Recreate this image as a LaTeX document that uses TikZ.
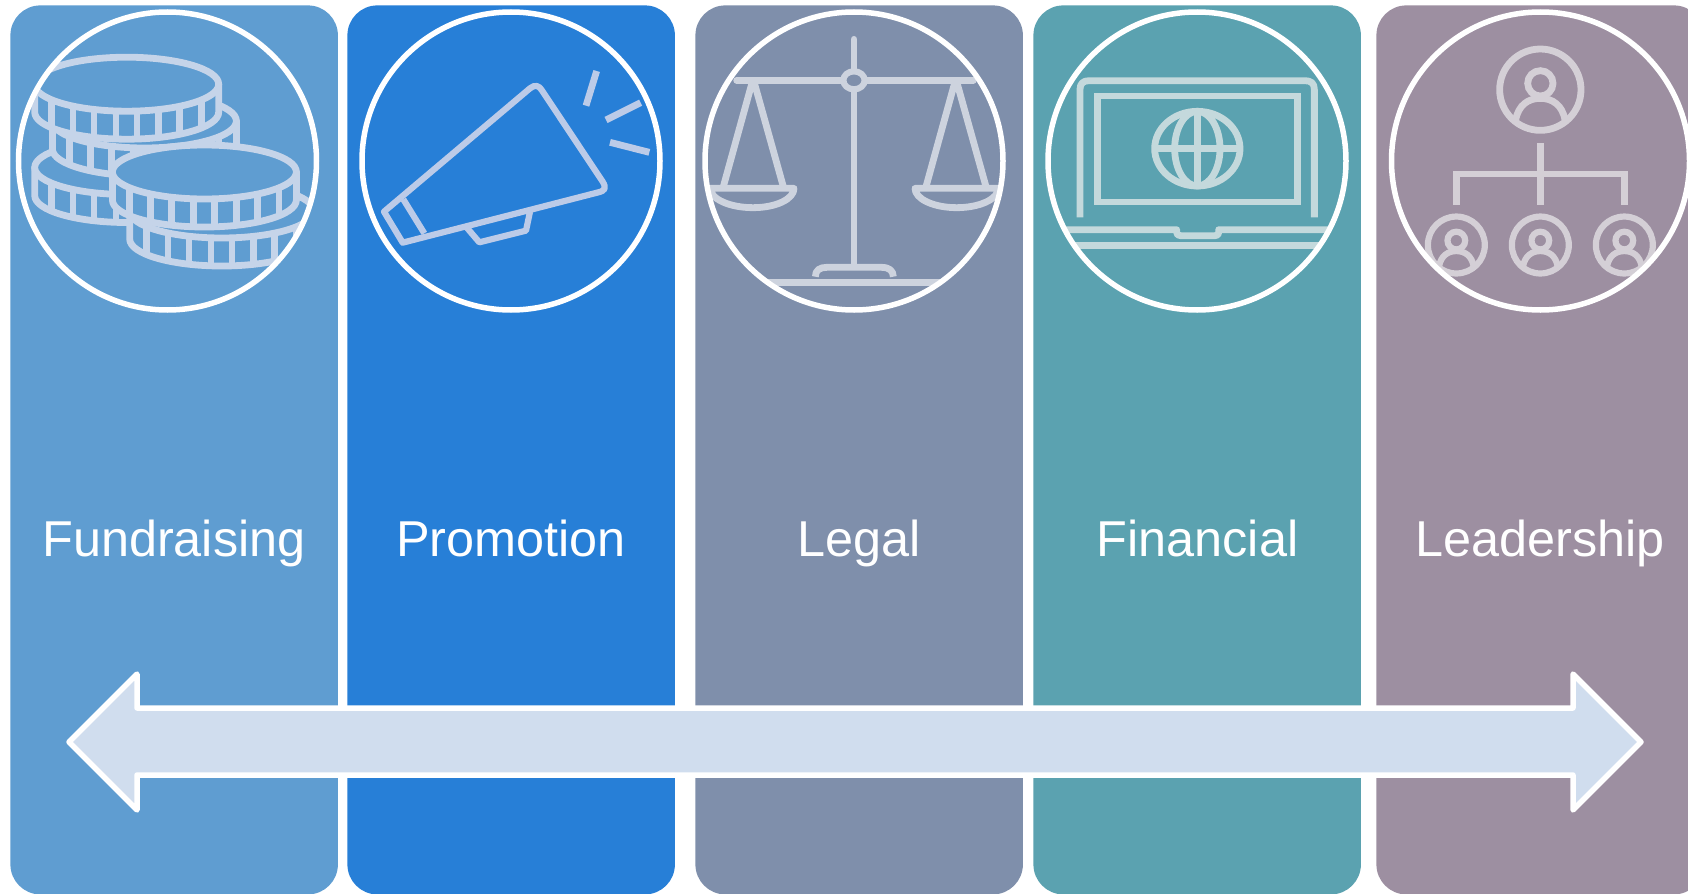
\documentclass[tikz,border=0pt]{standalone}
\usepackage{fontspec}
\setmainfont{Liberation Sans}
\definecolor{pa}{HTML}{5F9DD1}
\definecolor{pb}{HTML}{277FD7}
\definecolor{pc}{HTML}{7F8FAB}
\definecolor{pd}{HTML}{5BA2B0}
\definecolor{pe}{HTML}{9D8FA1}
\definecolor{ia}{HTML}{C5D4E9}
\definecolor{ib}{HTML}{BCCBE8}
\definecolor{ic}{HTML}{CDD3DE}
\definecolor{id}{HTML}{C4D9DC}
\definecolor{ie}{HTML}{D4CFD6}
\definecolor{arrowfill}{HTML}{D0DDEE}
\tikzset{
  panelbox/.style={rectangle,rounded corners=15pt,inner sep=0pt,minimum height=444.5pt,minimum width=163.75pt,anchor=north west},
  ringbox/.style={circle,draw=white,line width=2.75pt,inner sep=0pt,minimum size=149pt},
  labeltext/.style={text=white,font=\fontsize{25.2}{30}\selectfont,anchor=base,inner sep=0pt},
  iconline/.style={line width=3.4pt,line join=round,line cap=butt},
  thinicon/.style={line width=3.1pt,line join=round,line cap=butt},
  zoomed/.style={x=0.16667pt,y=-0.16667pt},
}
% one coin, in image pixels, centred on its top face
\newcommand{\coinshape}[2]{%
  \begin{scope}[shift={(#1,#2)}]
    \draw[iconline,fill=pa] (-92,0) -- (-92,28) .. controls (-92,42.9) and (-50.8,55) .. (0,55) .. controls (50.8,55) and (92,42.9) .. (92,28) -- (92,0) -- cycle;
    \foreach \d in {-75,-53.7,-32.7,-10.7,10.3,32,53,74.5}
      \draw[iconline] ({\d},{27*sqrt(1-(\d/92)^2)}) -- ++(0,28);
    \draw[iconline,fill=pa] (0,0) ellipse [x radius=92,y radius=27];
  \end{scope}}
% one person badge, in zoomed pixels with a scale factor
\newcommand{\personbadge}[4]{%
  \begin{scope}[shift={(#1,#2)},scale=#3]
    \draw[line width=#4] (0,0) circle [radius=122];
    \draw[line width=#4] (0,-19) circle [radius=38];
    \draw[line width=#4] (-74,91) .. controls (-66,46) and (-36,26) .. (0,26) .. controls (36,26) and (66,46) .. (74,91);
  \end{scope}}
\begin{document}
\begin{tikzpicture}[x=0.5pt,y=-0.5pt]
\useasboundingbox (0,0) rectangle (1688,894);
\clip (0,0) rectangle (1688,894);
\fill[white] (0,0) rectangle (1688,894);

\node[panelbox,fill=pa] (panelA) at (10,5) {};
\node[panelbox,fill=pb] (panelB) at (347,5) {};
\node[panelbox,fill=pc] (panelC) at (695,5) {};
\node[panelbox,fill=pd] (panelD) at (1033,5) {};
\node[panelbox,fill=pe] (panelE) at (1376,5) {};

% coins
\begin{scope}
  \clip (167.5,161) circle [radius=150];
  \begin{scope}[draw=ia]
    \coinshape{126.7}{167.5}
    \coinshape{221.7}{211}
    \coinshape{144.4}{121}
    \coinshape{126.7}{84.2}
    \coinshape{204.4}{172}
  \end{scope}
\end{scope}

% megaphone
\begin{scope}[shift={(340,0)},zoomed,draw=ib]
  \draw[thinicon] (132,635) -- (570,265) .. controls (585,252) and (598,258) .. (605,270) -- (788,545) .. controls (800,565) and (795,572) .. (775,577) -- (188,728) -- cycle;
  \draw[thinicon] (190,598) -- (253,700);
  \draw[thinicon] (378,680) -- (418,727) -- (558,692) -- (570,635);
  \draw[iconline] (770,213) -- (738,317);
  \draw[iconline] (902,308) -- (798,360);
  \draw[iconline] (810,427) -- (928,457);
\end{scope}

% scales
\begin{scope}
  \clip (854,161) circle [radius=150];
  \begin{scope}[shift={(690,0)},zoomed,draw=ic]
    \draw[iconline,line cap=round] (492,118) -- (492,800);
    \draw[iconline,line cap=round] (140,241) -- (850,241);
    \draw[thinicon,fill=pc] (492,241) ellipse [x radius=32,y radius=27];
    \draw[iconline] (100,560) -- (187,245) -- (192,245) -- (280,560);
    \draw[iconline] (708,560) -- (795,245) -- (800,245) -- (888,560);
    \draw[iconline] (312,565) .. controls (312,597) and (258,623) .. (189,623) .. controls (119,623) and (61,597) .. (61,565) -- cycle;
    \draw[iconline] (925,565) .. controls (925,597) and (869,623) .. (800,623) .. controls (731,623) and (675,597) .. (675,565) -- cycle;
    \draw[iconline] (376,830) .. controls (376,810) and (390,802) .. (410,802) -- (575,802) .. controls (597,802) and (610,812) .. (610,830);
    \draw[iconline] (200,848) -- (780,848);
  \end{scope}
\end{scope}

% laptop
\begin{scope}
  \clip (1197,161) circle [radius=150];
  \begin{scope}[shift={(1030,0)},zoomed,draw=id]
    \draw[iconline] (150,652) -- (150,268) .. controls (150,250) and (160,242) .. (178,242) -- (825,242) .. controls (843,242) and (853,250) .. (853,268) -- (853,652);
    \draw[iconline,line join=miter] (203,288) rectangle (802,606);
    \draw[iconline] (502,446) ellipse [x radius=128,y radius=112];
    \draw[iconline] (502,446) ellipse [x radius=68,y radius=112];
    \draw[iconline] (502,334) -- (502,558);
    \draw[iconline] (374,446) -- (630,446);
    \draw[iconline] (80,689) -- (440,689) -- (440,697) .. controls (440,704) and (444,707) .. (452,707) -- (555,707) .. controls (563,707) and (566,704) .. (566,697) -- (566,689) -- (920,689);
    \draw[iconline] (110,736) -- (890,736);
  \end{scope}
\end{scope}

% organisation chart
\begin{scope}
  \clip (1540.5,161) circle [radius=150];
  \begin{scope}[shift={(1370,0)},zoomed,draw=ie]
    \personbadge{511}{269}{1}{3.4pt}
    \personbadge{259}{735}{0.7}{3.1pt}
    \personbadge{511}{735}{0.7}{3.1pt}
    \personbadge{763}{735}{0.7}{3.1pt}
    \draw[iconline] (511,430) -- (511,615);
    \draw[iconline,line join=miter] (259,615) -- (259,522) -- (763,522) -- (763,615);
  \end{scope}
\end{scope}

\node[ringbox] (ringA) at (167.5,161) {};
\node[ringbox] (ringB) at (511,161) {};
\node[ringbox] (ringC) at (854,161) {};
\node[ringbox] (ringD) at (1197,161) {};
\node[ringbox] (ringE) at (1540.5,161) {};

\node[labeltext] (textA) at (174,556) {Fundraising};
\node[labeltext] (textB) at (511,556) {Promotion};
\node[labeltext] (textC) at (859,556) {Legal};
\node[labeltext] (textD) at (1197.5,556) {Financial};
\node[labeltext] (textE) at (1540,556) {Leadership};

% double arrow
\draw[white,fill=arrowfill,line width=2.75pt,line join=round]
  (69,742) -- (137,674) -- (137,708) -- (1573,708) -- (1573,674) -- (1641,742)
  -- (1573,810) -- (1573,775) -- (137,775) -- (137,810) -- cycle;
\end{tikzpicture}
\end{document}
